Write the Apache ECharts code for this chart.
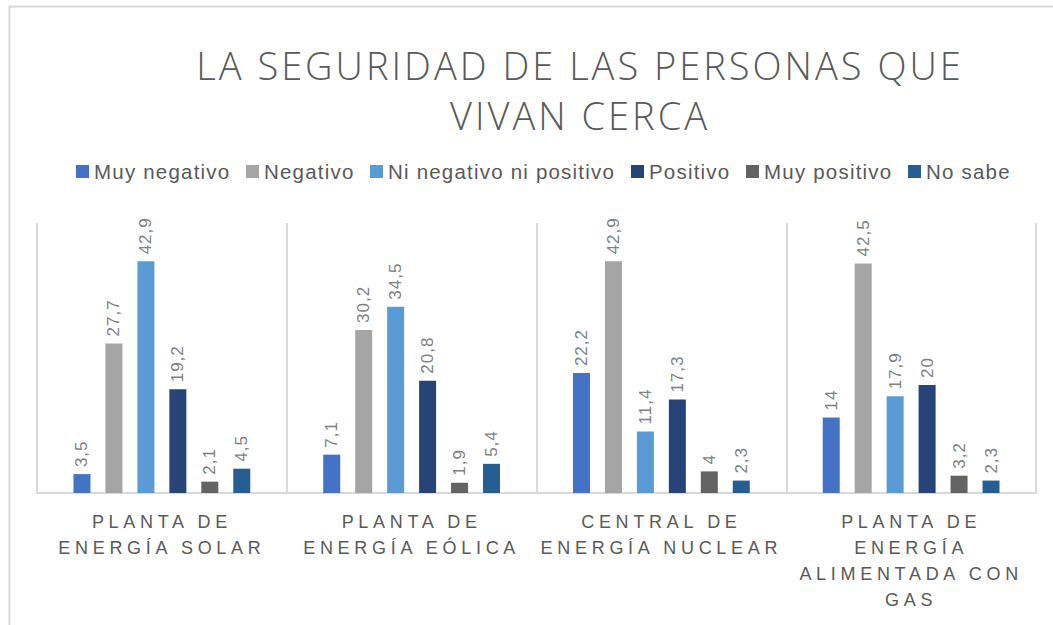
<!DOCTYPE html>
<html>
<head>
<meta charset="utf-8">
<script src="https://cdn.jsdelivr.net/npm/echarts@6/dist/echarts.min.js"></script>
<style>
html,body{margin:0;padding:0;background:#fff;}
#chart{width:1053px;height:625px;}
</style>
</head>
<body>
<div id="chart"></div>
<script>
const titleText = "LA SEGURIDAD DE LAS PERSONAS QUE\nVIVAN CERCA";
const categories = [
  "PLANTA DE\nENERGÍA SOLAR",
  "PLANTA DE\nENERGÍA EÓLICA",
  "CENTRAL DE\nENERGÍA NUCLEAR",
  "PLANTA DE\nENERGÍA\nALIMENTADA CON\nGAS"
];
const seriesNames = ["Muy negativo", "Negativo", "Ni negativo ni positivo", "Positivo", "Muy positivo", "No sabe"];
const muyNegativo = [3.5, 7.1, 22.2, 14];
const negativo = [27.7, 30.2, 42.9, 42.5];
const niNegativoNiPositivo = [42.9, 34.5, 11.4, 17.9];
const positivo = [19.2, 20.8, 17.3, 20];
const muyPositivo = [2.1, 1.9, 4, 3.2];
const noSabe = [4.5, 5.4, 2.3, 2.3];
const seriesData = [muyNegativo, negativo, niNegativoNiPositivo, positivo, muyPositivo, noSabe];
const colors = ["#4472C4", "#A5A5A5", "#5B9BD5", "#264478", "#636363", "#255E91"];

const FONT = 'Liberation Sans, Arial, sans-serif';
const LEG_SIZE = 20.5, LEG_SP = 1.2;
const TITLE_SP = 3, CAT_SP = 4.7, LABEL_SP = 1;

// reserve room in the legend for the letter-spaced names
const mctx = document.createElement('canvas').getContext('2d');
mctx.font = LEG_SIZE + 'px "Liberation Sans"';
const legendRich = {};
seriesNames.forEach((n, i) => {
  legendRich['l' + i] = {
    width: Math.ceil(mctx.measureText(n).width + LEG_SP * n.length),
    backgroundColor: 'rgba(255,255,255,0)',
    fontSize: LEG_SIZE, fontFamily: FONT, color: '#595959'
  };
});

const chart = echarts.init(document.getElementById('chart'), null, {renderer: 'svg'});

const series = seriesNames.map((name, i) => ({
  name: name,
  type: 'bar',
  data: seriesData[i],
  barWidth: 17,
  barGap: '88%',
  itemStyle: {color: colors[i]},
  label: {
    show: true,
    position: 'top',
    rotate: 90,
    align: 'left',
    verticalAlign: 'middle',
    distance: 7,
    color: '#808080',
    fontSize: 17,
    fontFamily: FONT,
    formatter: p => String(p.value).replace('.', ',')
  }
}));

chart.setOption({
  animation: false,
  color: colors,
  title: {
    text: titleText,
    left: 575,
    top: 35,
    textAlign: 'center',
    textStyle: {
      color: '#595959',
      fontSize: 38,
      fontWeight: 300,
      fontFamily: 'Open Sans, sans-serif',
      lineHeight: 50
    }
  },
  legend: {
    top: 156,
    left: 71,
    itemWidth: 13,
    itemHeight: 13,
    itemGap: 15,
    icon: 'rect',
    formatter: name => '{l' + seriesNames.indexOf(name) + '|' + name + '}',
    textStyle: {color: '#595959', fontSize: LEG_SIZE, fontFamily: FONT, rich: legendRich},
    data: seriesNames
  },
  graphic: [{
    type: 'rect',
    left: 7, top: 4,
    shape: {width: 1200, height: 800},
    style: {fill: 'none', stroke: '#D9D9D9', lineWidth: 2},
    silent: true
  }],
  grid: {left: 37, right: 17, top: 223, bottom: 132, containLabel: false},
  xAxis: {
    type: 'category',
    data: categories,
    axisLine: {lineStyle: {color: '#D9D9D9', width: 2}},
    axisTick: {show: false},
    splitLine: {show: true, interval: 0, lineStyle: {color: '#D9D9D9', width: 2}},
    axisLabel: {
      interval: 0,
      color: '#595959',
      fontSize: 18,
      lineHeight: 26,
      margin: 16,
      fontFamily: FONT
    }
  },
  yAxis: {
    type: 'value',
    min: 0, max: 50, interval: 10,
    show: false,
    splitLine: {show: false}
  },
  series: series
});

function applySpacing() {
  const titleLines = titleText.split('\n');
  const catLines = new Set();
  categories.forEach(c => c.split('\n').forEach(l => catLines.add(l)));
  document.querySelectorAll('#chart svg text').forEach(t => {
    const s = t.textContent;
    if (titleLines.includes(s)) t.style.letterSpacing = TITLE_SP + 'px';
    else if (catLines.has(s)) t.style.letterSpacing = CAT_SP + 'px';
    else if (seriesNames.includes(s)) t.style.letterSpacing = LEG_SP + 'px';
    else if (/^\d+(,\d+)?$/.test(s)) t.style.letterSpacing = LABEL_SP + 'px';
  });
}
chart.on('finished', applySpacing);
setTimeout(applySpacing, 50);
setTimeout(applySpacing, 300);
</script>
</body>
</html>
